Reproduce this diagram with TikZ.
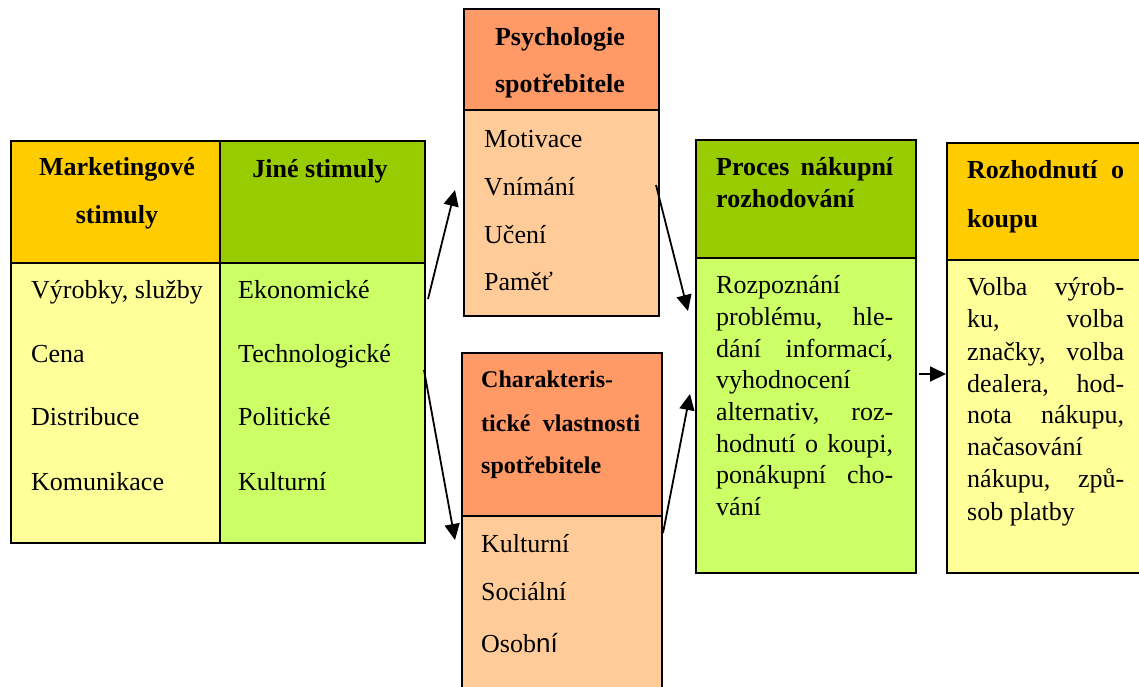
\documentclass[tikz,border=0pt]{standalone}
\usepackage{fontspec}
\setmainfont{Liberation Serif}
\newfontfamily\arialfont{Liberation Sans}
\usetikzlibrary{arrows.meta}
\definecolor{hOrange}{HTML}{FFCC00}
\definecolor{hGreen}{HTML}{99CC00}
\definecolor{bGreen}{HTML}{CCFF66}
\definecolor{bYellow}{HTML}{FFFF99}
\definecolor{hSalmon}{HTML}{FF9966}
\definecolor{bPeach}{HTML}{FFCC99}
\begin{document}
\begin{tikzpicture}[x=1pt,y=-1pt,
  boxpart/.style={draw=black, line width=1.8pt, inner sep=0pt, anchor=north west},
  txt/.style={inner sep=0pt, anchor=base west, font=\fontsize{26}{32}\selectfont},
  htxt/.style={inner sep=0pt, anchor=base west, font=\fontsize{26}{32}\selectfont\bfseries},
  stxt/.style={inner sep=0pt, anchor=base west, font=\fontsize{24}{30}\selectfont\bfseries},
  ctxt/.style={inner sep=0pt, anchor=base, font=\fontsize{26}{32}\selectfont\bfseries},
  flow/.style={line width=1.8pt, -{Triangle[length=16pt,width=15pt]}}]
\useasboundingbox (0,0) rectangle (1139,686);
\clip (0,0) rectangle (1139,686);
\fill[white] (0,0) rectangle (1139,686);

% Marketingove stimuly
\node[boxpart, fill=hOrange, minimum width=209pt, minimum height=122pt] (mkh) at (10,140) {};
\node[boxpart, fill=bYellow, minimum width=209pt, minimum height=280pt] (mkb) at (10,262) {};
% Jine stimuly
\node[boxpart, fill=hGreen, minimum width=205pt, minimum height=122pt] (jih) at (219,140) {};
\node[boxpart, fill=bGreen, minimum width=205pt, minimum height=280pt] (jib) at (219,262) {};
% Psychologie
\node[boxpart, fill=hSalmon, minimum width=195pt, minimum height=101pt] (psh) at (463,8) {};
\node[boxpart, fill=bPeach, minimum width=195pt, minimum height=206pt] (psb) at (463,109) {};
% Charakteristicke
\node[boxpart, fill=hSalmon, minimum width=200pt, minimum height=163pt] (chh) at (461,352) {};
\node[boxpart, fill=bPeach, minimum width=200pt, minimum height=200pt] (chb) at (461,515) {};
% Proces
\node[boxpart, fill=hGreen, minimum width=220pt, minimum height=118pt] (prh) at (695,139) {};
\node[boxpart, fill=bGreen, minimum width=220pt, minimum height=315pt] (prb) at (695,257) {};
% Rozhodnuti
\node[boxpart, fill=hOrange, minimum width=220pt, minimum height=117pt] (roh) at (946,142) {};
\node[boxpart, fill=bYellow, minimum width=220pt, minimum height=313pt] (rob) at (946,259) {};

% texts
\node[ctxt] (t1) at (117,175) {Marketingové};
\node[ctxt] (t2) at (117,223) {stimuly};
\node[ctxt] (t3) at (320,177) {Jiné stimuly};
\node[txt] (t4) at (31,298) {Výrobky, služby};
\node[txt] (t5) at (31,362) {Cena};
\node[txt] (t6) at (31,425) {Distribuce};
\node[txt] (t7) at (31,490) {Komunikace};
\node[txt] (t8) at (238,298) {Ekonomické};
\node[txt] (t9) at (238,362) {Technologické};
\node[txt] (t10) at (238,425) {Politické};
\node[txt] (t11) at (238,490) {Kulturní};

\node[ctxt] (t12) at (560,45) {Psychologie};
\node[ctxt] (t13) at (560,92) {spotřebitele};
\node[txt] (t14) at (484,147) {Motivace};
\node[txt] (t15) at (484,195) {Vnímání};
\node[txt] (t16) at (484,243) {Učení};
\node[txt] (t17) at (484,290) {Paměť};

\node[stxt] (t18) at (481,387) {Charakteris-};
\node[stxt] (t19) at (481,431) {\makebox[159pt][s]{tické vlastnosti}};
\node[stxt] (t20) at (481,473) {spotřebitele};
\node[txt] (t21) at (481,552) {Kulturní};
\node[txt] (t22) at (481,600) {Sociální};
\node[txt] (t23) at (481,652) {Osob{\arialfont ní}};

\node[htxt] (t24) at (716,175) {\makebox[177pt][s]{Proces nákupní}};
\node[htxt] (t25) at (716,207) {rozhodování};
\node[txt] (t26) at (716,293) {Rozpoznání};
\node[txt] (t27) at (716,325) {\makebox[177pt][s]{problému, hle-}};
\node[txt] (t28) at (716,357) {\makebox[177pt][s]{dání informací,}};
\node[txt] (t29) at (716,388) {vyhodnocení};
\node[txt] (t30) at (716,420) {\makebox[177pt][s]{alternativ, roz-}};
\node[txt] (t31) at (716,452) {\makebox[177pt][s]{hodnutí o koupi,}};
\node[txt] (t32) at (716,483) {\makebox[177pt][s]{ponákupní cho-}};
\node[txt] (t33) at (716,515) {vání};

\node[htxt] (t34) at (967,178) {\makebox[157pt][s]{Rozhodnutí o}};
\node[htxt] (t35) at (967,227) {koupu};
\node[txt] (t36) at (967,295) {\makebox[157pt][s]{Volba výrob-}};
\node[txt] (t37) at (967,327) {\makebox[157pt][s]{ku, volba}};
\node[txt] (t38) at (967,360) {\makebox[157pt][s]{značky, volba}};
\node[txt] (t39) at (967,392) {\makebox[157pt][s]{dealera, hod-}};
\node[txt] (t40) at (967,423) {\makebox[157pt][s]{nota nákupu,}};
\node[txt] (t41) at (967,455) {načasování};
\node[txt] (t42) at (967,487) {\makebox[157pt][s]{nákupu, způ-}};
\node[txt] (t43) at (967,520) {sob platby};

% arrows
\coordinate (a1s) at (428,299); \coordinate (a1e) at (455,190);
\coordinate (a2s) at (424,370); \coordinate (a2e) at (455,540);
\coordinate (a3s) at (656,185); \coordinate (a3e) at (688,311);
\coordinate (a4s) at (663,533); \coordinate (a4e) at (690,394);
\coordinate (a5s) at (919,374); \coordinate (a5e) at (946,374);
\draw[flow] (a1s) -- (a1e);
\draw[flow] (a2s) -- (a2e);
\draw[flow] (a3s) -- (a3e);
\draw[flow] (a4s) -- (a4e);
\draw[flow] (a5s) -- (a5e);
\end{tikzpicture}
\end{document}
